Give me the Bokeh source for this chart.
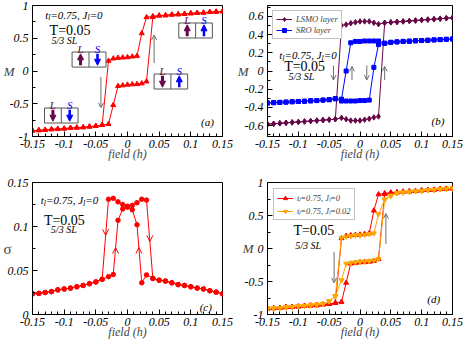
from bokeh.plotting import figure
from bokeh.layouts import gridplot
from bokeh.models import (Label, Arrow, OpenHead, NormalHead, BoxAnnotation, Legend,
                          LegendItem, FixedTicker, CustomJSTickFormatter, Range1d)
from bokeh.embed import file_html
from bokeh.resources import INLINE

FONT = "Liberation Serif"

# ---------------- data ----------------
field = [-0.15, -0.14, -0.13, -0.12, -0.11, -0.10, -0.09, -0.08, -0.07, -0.06, -0.05, -0.04,
         -0.03, -0.0225, -0.015, -0.0075, 0.0, 0.0075, 0.015, 0.0225, 0.03,
         0.04, 0.05, 0.06, 0.07, 0.08, 0.09, 0.10, 0.11, 0.12, 0.13, 0.14, 0.15]

# panel (a) and red curve of (d): total M, t_l=0.75, J_l=0
m_desc = [-0.91, -0.905, -0.90, -0.89, -0.885, -0.88, -0.87, -0.865, -0.86, -0.85, -0.84, -0.825,
          0.155, 0.19, 0.20, 0.205, 0.21, 0.22, 0.23, 0.575, 0.82,
          0.835, 0.845, 0.85, 0.86, 0.865, 0.87, 0.88, 0.885, 0.89, 0.90, 0.905, 0.91]
m_asc = [-0.91, -0.905, -0.90, -0.89, -0.885, -0.88, -0.87, -0.865, -0.86, -0.85, -0.84, -0.825,
         -0.81, -0.52, -0.23, -0.22, -0.21, -0.205, -0.20, -0.19, -0.16,
         0.825, 0.845, 0.85, 0.86, 0.865, 0.87, 0.88, 0.885, 0.89, 0.90, 0.905, 0.91]

# panel (b): layer magnetisations
lsmo_desc = [-0.585, -0.58, -0.575, -0.57, -0.565, -0.56, -0.555, -0.55, -0.545, -0.54, -0.535, -0.53,
             0.50, 0.51, 0.525, 0.535, 0.545, 0.545, 0.545, 0.53, 0.515,
             0.53, 0.535, 0.54, 0.545, 0.55, 0.555, 0.56, 0.565, 0.57, 0.575, 0.58, 0.585]
lsmo_asc = [-0.585, -0.58, -0.575, -0.57, -0.565, -0.56, -0.555, -0.55, -0.545, -0.54, -0.535, -0.53,
            -0.515, -0.53, -0.545, -0.545, -0.545, -0.535, -0.525, -0.51, -0.50,
            0.53, 0.535, 0.54, 0.545, 0.55, 0.555, 0.56, 0.565, 0.57, 0.575, 0.58, 0.585]
sro_desc = [-0.352, -0.348, -0.345, -0.342, -0.338, -0.335, -0.332, -0.328, -0.325, -0.32, -0.315, -0.305,
            -0.33, -0.33, -0.33, -0.33, -0.325, -0.325, -0.32, 0.04, 0.29,
            0.305, 0.315, 0.32, 0.325, 0.328, 0.332, 0.335, 0.338, 0.342, 0.345, 0.348, 0.352]
sro_asc = [-0.352, -0.348, -0.345, -0.342, -0.338, -0.335, -0.332, -0.328, -0.325, -0.32, -0.315, -0.305,
           -0.31, 0.0, 0.31, 0.325, 0.325, 0.33, 0.33, 0.33, 0.33,
           0.305, 0.315, 0.32, 0.325, 0.328, 0.332, 0.335, 0.338, 0.342, 0.345, 0.348, 0.352]

# panel (c): sigma
sig_desc = [0.0235, 0.024, 0.025, 0.026, 0.028, 0.029, 0.030, 0.0315, 0.033, 0.035, 0.037, 0.040,
            0.131, 0.132, 0.128, 0.125, 0.123, 0.119, 0.102, 0.036, 0.045,
            0.041, 0.039, 0.038, 0.036, 0.034, 0.033, 0.0315, 0.030, 0.029, 0.027, 0.0254, 0.0235]
sig_asc = [0.0235, 0.024, 0.025, 0.026, 0.028, 0.029, 0.030, 0.0315, 0.033, 0.035, 0.037, 0.040,
           0.043, 0.0455, 0.107, 0.120, 0.122, 0.124, 0.127, 0.131, 0.130,
           0.041, 0.039, 0.038, 0.036, 0.034, 0.033, 0.0315, 0.030, 0.029, 0.027, 0.0254, 0.0235]

# panel (d): orange curve, J_l=0.02
m2_desc = [-0.91, -0.905, -0.90, -0.89, -0.885, -0.875, -0.87, -0.86, -0.85, -0.84, -0.80, -0.72,
           0.16, 0.18, 0.19, 0.20, 0.20, 0.21, 0.22, 0.23, 0.52,
           0.74, 0.80, 0.84, 0.85, 0.86, 0.87, 0.875, 0.885, 0.89, 0.90, 0.905, 0.91]
m2_asc = [-0.91, -0.905, -0.90, -0.89, -0.885, -0.875, -0.87, -0.86, -0.85, -0.84, -0.80, -0.72,
          -0.48, -0.23, -0.22, -0.21, -0.20, -0.20, -0.19, -0.18, -0.16,
          0.74, 0.80, 0.84, 0.85, 0.86, 0.87, 0.875, 0.885, 0.89, 0.90, 0.905, 0.91]

x_ticks = [-0.15, -0.1, -0.05, 0, 0.05, 0.1, 0.15]
m_ticks = [-1, -0.5, 0, 0.5, 1]
b_ticks = [-0.6, -0.4, -0.2, 0, 0.2, 0.4, 0.6]
s_ticks = [0, 0.05, 0.1, 0.15]

# ---------------- styling helpers ----------------
RED = "#FF0000"
MAROON = "#670748"
BLUE = "#0000FF"
ORANGE = "#FFA500"
GREY = "#6E6E6E"

x_minor = [round(-0.15 + 0.01 * i, 2) for i in range(31)]

# Times italic advance widths (em)
W = {'t': .278, 'l': .278, '=': .675, '.': .25, ',': .25, ' ': .25, 'J': .444}


def tw(s):
    return sum(W.get(c, .5) for c in s)


def make_fig(width, height, bl, br, bt, bb, yr, yticks, yminor, ylab, ylab_standoff,
             ylab_style="italic", ylab_size="13px"):
    p = figure(width=width, height=height, x_range=Range1d(-0.15, 0.15), y_range=Range1d(*yr),
               output_backend="svg", toolbar_location=None,
               min_border_left=bl, min_border_right=br, min_border_top=bt, min_border_bottom=bb)
    p.grid.visible = False
    p.outline_line_color = "black"
    p.outline_line_width = 1
    p.background_fill_color = "white"
    p.border_fill_color = "white"
    for ax in (p.xaxis[0], p.yaxis[0]):
        ax.major_tick_in = 5
        ax.major_tick_out = 0
        ax.minor_tick_in = 3
        ax.minor_tick_out = 0
        ax.axis_line_color = "black"
        ax.major_tick_line_color = "black"
        ax.minor_tick_line_color = "black"
        ax.major_label_text_font = FONT
        ax.major_label_text_font_style = "italic"
        ax.major_label_text_font_size = "12px"
        ax.major_label_text_color = "black"
        ax.formatter = CustomJSTickFormatter(code="return tick.toString();")
    p.xaxis.ticker = FixedTicker(ticks=x_ticks, minor_ticks=x_minor)
    p.yaxis.ticker = FixedTicker(ticks=yticks, minor_ticks=yminor)
    p.xaxis.major_label_standoff = 3
    p.yaxis.major_label_standoff = 4
    p.xaxis.axis_label = "field (h)"
    p.xaxis.axis_label_text_font = FONT
    p.xaxis.axis_label_text_font_style = "italic"
    p.xaxis.axis_label_text_font_size = "12px"
    p.xaxis.axis_label_standoff = -4
    p.yaxis.axis_label = ylab
    p.yaxis.axis_label_orientation = "horizontal"
    p.yaxis.axis_label_text_font = FONT
    p.yaxis.axis_label_text_font_style = ylab_style
    p.yaxis.axis_label_text_font_size = ylab_size
    p.yaxis.axis_label_standoff = ylab_standoff
    return p


def label(p, x, y, text, size="11px", style="italic", color="black", align="left", dx=0, dy=0):
    p.add_layout(Label(x=x, y=y, x_offset=dx, y_offset=dy, text=text, text_font=FONT,
                       text_font_style=style, text_font_size=size, text_color=color,
                       text_align=align, text_baseline="alphabetic"))


def tl_label(p, x, y, size=11):
    parts = [("t", False), ("l", True), ("=0.75, J", False), ("l", True), ("=0", False)]
    dx = 0.0
    for txt, sub in parts:
        fs = size * 0.72 if sub else size
        label(p, x, y, txt, size=f"{fs:.1f}px", dx=dx, dy=(-3 if sub else 0))
        dx += tw(txt) * fs


def grey_arrow(p, x, y0, y1, size=5):
    p.add_layout(Arrow(x_start=x, y_start=y0, x_end=x, y_end=y1, line_color=GREY, line_width=1,
                       end=OpenHead(size=size, line_color=GREY, line_width=1)))


def chevron(p, x, y, up, color=RED):
    d = 0.004
    p.add_layout(Arrow(x_start=x, y_start=(y - d if up else y + d), x_end=x, y_end=y,
                       line_alpha=0, end=OpenHead(size=6, line_color=color, line_width=1)))


def spin_box(p, left, right, bottom, top, l_up, s_up):
    p.add_layout(BoxAnnotation(left=left, right=right, bottom=bottom, top=top,
                               fill_color="white", fill_alpha=1, line_color="#555555",
                               line_width=1, line_alpha=1))
    mid = (left + right) / 2
    p.add_layout(Arrow(x_start=mid, y_start=bottom, x_end=mid, y_end=top, line_color="#555555",
                       line_width=1, end=None))
    pad = (top - bottom) * 0.12
    for cx, up, col, w, txt in (((left + mid) / 2, l_up, MAROON, 3, "L"),
                                ((mid + right) / 2, s_up, BLUE, 2.5, "S")):
        y0, y1 = (bottom + pad, top - pad) if up else (top - pad, bottom + pad)
        p.add_layout(Arrow(x_start=cx, y_start=y0, x_end=cx, y_end=y1, line_color=col,
                           line_width=w, end=NormalHead(size=6, fill_color=col, line_color=col)))
        label(p, cx, top, txt, size="11px", color=col, align="center", dy=3)


def loop(p, ydesc, yasc, color, marker, size, width=1):
    r = []
    for ys in (ydesc, yasc):
        l = p.line(field, ys, line_color=color, line_width=width)
        s = p.scatter(field, ys, marker=marker, size=size, fill_color=color, line_color=color)
        r.append((l, s))
    return r[0]


# ---------------- panel (a) ----------------
pa = make_fig(234, 167, 30, 12, 5, 31, (-1, 1), m_ticks, [-0.75, -0.25, 0.25, 0.75], "M", -8)
loop(pa, m_desc, m_asc, RED, "triangle", 5)
grey_arrow(pa, -0.042, -0.09, -0.56)
grey_arrow(pa, 0.042, 0.12, 0.55)
spin_box(pa, -0.131, -0.078, -0.794, -0.565, False, False)
spin_box(pa, -0.0875, -0.034, 0.06, 0.29, True, False)
spin_box(pa, 0.042, 0.095, -0.275, -0.046, False, True)
spin_box(pa, 0.081, 0.134, 0.504, 0.733, True, True)
tl_label(pa, -0.130, 0.86)
label(pa, -0.123, 0.625, "T=0.05", size="14px", style="normal")
label(pa, -0.120, 0.47, "5/3 SL", size="10px")
label(pa, 0.116, -0.78, "(a)", size="11px")

# ---------------- panel (b) ----------------
pb = make_fig(229, 167, 26, 11, 4, 31, (-0.72, 0.72), b_ticks,
              [-0.7, -0.5, -0.3, -0.1, 0.1, 0.3, 0.5, 0.7], "M", -7)
lr = loop(pb, lsmo_desc, lsmo_asc, MAROON, "diamond", 5.5)
sr = loop(pb, sro_desc, sro_asc, BLUE, "square", 4)
leg_b = Legend(items=[LegendItem(label="LSMO layer", renderers=list(lr)),
                      LegendItem(label="SRO layer", renderers=list(sr))],
               location="top_left", margin=5, padding=3, spacing=1,
               label_text_font=FONT, label_text_font_style="italic", label_text_font_size="8.5px",
               label_height=10, glyph_height=10, glyph_width=16, label_standoff=4,
               border_line_color="#888888", border_line_width=1, background_fill_alpha=1)
pb.add_layout(leg_b)
grey_arrow(pb, -0.043, 0.06, -0.10)
grey_arrow(pb, -0.013, -0.10, 0.05)
grey_arrow(pb, 0.011, 0.06, -0.10)
grey_arrow(pb, 0.040, -0.10, 0.05)
tl_label(pb, -0.131, 0.175)
label(pb, -0.123, 0.05, "T=0.05", size="14px", style="normal")
label(pb, -0.116, -0.06, "5/3 SL", size="10px")
label(pb, 0.116, -0.55, "(b)", size="11px")

# ---------------- panel (c) ----------------
pc = make_fig(234, 176, 30, 12, 15, 29, (0, 0.15), s_ticks, [0.025, 0.075, 0.125], "σ", -7,
              ylab_style="normal", ylab_size="15px")
loop(pc, sig_desc, sig_asc, RED, "circle", 4.5)
chevron(pc, -0.0345, 0.090, False)
chevron(pc, -0.0188, 0.076, True)
chevron(pc, 0.0180, 0.076, True)
chevron(pc, 0.0353, 0.083, False)
tl_label(pc, -0.137, 0.130)
label(pc, -0.132, 0.107, "T=0.05", size="14px", style="normal")
label(pc, -0.121, 0.097, "5/3 SL", size="10px")
label(pc, 0.114, 0.009, "(c)", size="11px")

# ---------------- panel (d) ----------------
pd_ = make_fig(229, 176, 26, 11, 15, 29, (-1, 1), m_ticks, [-0.75, -0.25, 0.25, 0.75], "M", -12)
rr = loop(pd_, m_desc, m_asc, RED, "triangle", 5)
orr = loop(pd_, m2_desc, m2_asc, ORANGE, "inverted_triangle", 5)
leg_d = Legend(items=[LegendItem(label="tₗ=0.75, Jₗ=0", renderers=list(rr)),
                      LegendItem(label="tₗ=0.75, Jₗ=0.02", renderers=list(orr))],
               location="top_left", margin=6, padding=3, spacing=2,
               label_text_font=FONT, label_text_font_style="italic", label_text_font_size="8.5px",
               label_height=10, glyph_height=10, glyph_width=16, label_standoff=4,
               border_line_color="#888888", border_line_width=1, background_fill_alpha=1)
pd_.add_layout(leg_d)
grey_arrow(pd_, -0.042, -0.05, -0.52)
grey_arrow(pd_, 0.042, 0.07, 0.53)
label(pd_, -0.108, 0.27, "T=0.05", size="14px", style="normal")
label(pd_, -0.105, 0.04, "5/3 SL", size="10px")
label(pd_, 0.109, -0.76, "(d)", size="11px")

grid = gridplot([[pa, pb], [pc, pd_]], toolbar_location=None)
open("out.html", "w").write(file_html(grid, INLINE))
